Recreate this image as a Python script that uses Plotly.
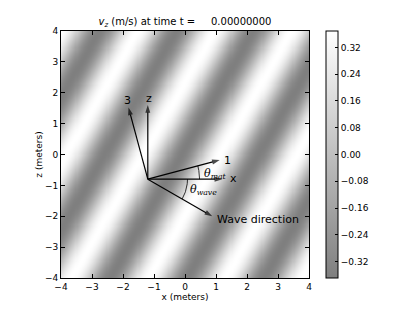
import numpy as np
import plotly.graph_objects as go

# ---- data ----
x_range = [-4, 4]
z_range = [-4, 4]
n_grid = 241
amplitude = 0.369
wave_angle_deg = -30.0          # wave propagation direction
wavelength = 2.148
phase0 = 3.47                   # phase offset at t = 0
time_value = "0.00000000"

origin = [-1.2, -0.8]
arrow_len = 2.4
arrow_names = ["x", "z", "1", "3", "Wave direction"]
arrow_angles = [0.0, 90.0, 15.0, 105.0, -30.0]

cbar_ticks = [-0.32, -0.24, -0.16, -0.08, 0.0, 0.08, 0.16, 0.24, 0.32]
axis_ticks = [-4, -3, -2, -1, 0, 1, 2, 3, 4]

# ---- field ----
xs = np.linspace(x_range[0], x_range[1], n_grid)
zs = np.linspace(z_range[0], z_range[1], n_grid)
X, Z = np.meshgrid(xs, zs)
k = 2 * np.pi / wavelength
th = np.deg2rad(wave_angle_deg)
V = amplitude * np.cos(k * (X * np.cos(th) + Z * np.sin(th)) + phase0)

font_family = "DejaVu Sans"

fig = go.Figure()
fig.add_trace(go.Heatmap(
    x=xs, y=zs, z=V, zmin=-amplitude, zmax=amplitude, zsmooth="best",
    colorscale=[[0, "rgb(127,127,127)"], [1, "rgb(255,255,255)"]],
    colorbar=dict(
        x=1.069, xanchor="left", xref="paper", y=0.5, yanchor="middle",
        len=1.0, lenmode="fraction", thickness=12, thicknessmode="pixels",
        xpad=0, ypad=0,
        outlinewidth=1, outlinecolor="black",
        tickvals=cbar_ticks, tickformat=".2f", ticks="inside", ticklen=3,
        tickcolor="black", tickfont=dict(family=font_family, size=9, color="black"),
    ),
    hoverinfo="skip",
))

# arcs
def arc(a0, a1, r):
    t = np.deg2rad(np.linspace(a0, a1, 40))
    return origin[0] + r * np.cos(t), origin[1] + r * np.sin(t)

ax_, az_ = arc(arrow_angles[0], arrow_angles[2], 1.67)
fig.add_trace(go.Scatter(x=ax_, y=az_, mode="lines", line=dict(color="black", width=0.8),
                         showlegend=False, hoverinfo="skip"))
ax_, az_ = arc(arrow_angles[4], arrow_angles[0], 1.28)
fig.add_trace(go.Scatter(x=ax_, y=az_, mode="lines", line=dict(color="black", width=0.8),
                         showlegend=False, hoverinfo="skip"))

# arrows (line + arrow-shaped marker at the tip)
for name, ang in zip(arrow_names, arrow_angles):
    a = np.deg2rad(ang)
    tip_x = origin[0] + arrow_len * np.cos(a)
    tip_z = origin[1] + arrow_len * np.sin(a)
    fig.add_trace(go.Scatter(
        x=[origin[0], tip_x], y=[origin[1], tip_z], mode="lines+markers",
        line=dict(color="black", width=1.2),
        marker=dict(symbol=["circle", "arrow"], size=[0, 8], angleref="previous",
                    color="black", line=dict(width=0)),
        showlegend=False, hoverinfo="skip"))

label_pos = {
    "x": (1.40, -0.79, "left"),
    "z": (-1.17, 1.80, "center"),
    "1": (1.38, -0.18, "center"),
    "3": (-1.86, 1.75, "center"),
    "Wave direction": (0.97, -2.10, "left"),
}
for name in arrow_names:
    lx, lz, anc = label_pos[name]
    fig.add_annotation(x=lx, y=lz, xref="x", yref="y", text=name, showarrow=False,
                       xanchor=anc, yanchor="middle",
                       font=dict(family=font_family, size=11, color="black"))

fig.add_annotation(x=0.54, y=-0.63, xref="x", yref="y", showarrow=False,
                   text="<i>θ<sub>mat</sub></i>", xanchor="left", yanchor="middle",
                   font=dict(family="DejaVu Serif", size=11, color="black"))
fig.add_annotation(x=0.11, y=-1.14, xref="x", yref="y", showarrow=False,
                   text="<i>θ<sub>wave</sub></i>", xanchor="left", yanchor="middle",
                   font=dict(family="DejaVu Serif", size=11, color="black"))

axis_common = dict(
    tickvals=axis_ticks, ticks="inside", ticklen=4, tickcolor="black",
    showline=True, linecolor="black", linewidth=1, mirror="allticks",
    showgrid=False, zeroline=False,
    tickfont=dict(family=font_family, size=9, color="black"),
)
fig.update_xaxes(range=x_range, title=dict(text="x (meters)", standoff=2,
                 font=dict(family=font_family, size=9, color="black")), **axis_common)
fig.update_yaxes(range=z_range, title=dict(text="z (meters)", standoff=0,
                 font=dict(family=font_family, size=9, color="black")), **axis_common)

fig.update_layout(
    width=415, height=312,
    margin=dict(l=61, r=106, t=31, b=32),
    paper_bgcolor="white", plot_bgcolor="white",
    showlegend=False,
    title=dict(text="<i>v<sub>z</sub></i> (m/s) at time t = \u00a0\u00a0\u00a0\u00a0" + time_value,
               x=(61 + 124) / 415, xanchor="center", y=1 - 21 / 312, yanchor="middle",
               font=dict(family=font_family, size=10, color="black")),
)

fig.write_html("out.html", config={"displayModeBar": False},
               post_script="document.body.style.margin='0';")
